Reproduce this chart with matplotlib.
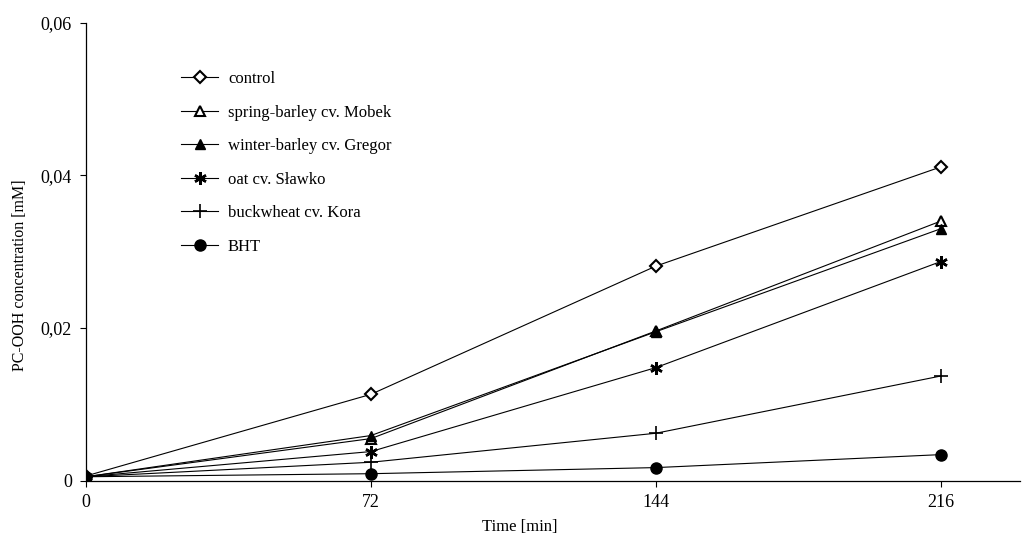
import matplotlib.pyplot as plt
from matplotlib.ticker import FuncFormatter

plt.rcParams['font.family'] = ['Liberation Serif', 'DejaVu Serif']

time = [0, 72, 144, 216]
control = [0.0006, 0.0113, 0.0281, 0.0411]
spring_barley = [0.0005, 0.0055, 0.0196, 0.0340]
winter_barley = [0.0005, 0.0059, 0.0195, 0.0330]
oat = [0.0005, 0.0038, 0.0148, 0.0287]
buckwheat = [0.0005, 0.0024, 0.0062, 0.0137]
bht = [0.0005, 0.0009, 0.0017, 0.0034]

labels = ["control", "spring-barley cv. Mobek", "winter-barley cv. Gregor",
          "oat cv. Sławko", "buckwheat cv. Kora", "BHT"]

fig = plt.figure(figsize=(10.23, 5.44), dpi=100)
ax = fig.add_axes([0.084, 0.1166, 0.913, 0.8417])

ax.plot(time, control, color="black", lw=0.8, marker="D", ms=6, mfc="white", mew=1.5, label=labels[0])
ax.plot(time, spring_barley, color="black", lw=0.8, marker="^", ms=7, mfc="white", mew=1.5, label=labels[1])
ax.plot(time, winter_barley, color="black", lw=0.8, marker="^", ms=7, mfc="black", label=labels[2])
ax.plot(time, oat, color="black", lw=0.8, marker=(6, 2, 0), ms=9, mew=1.8, label=labels[3])
ax.plot(time, buckwheat, color="black", lw=0.8, marker="+", ms=10, mew=1.2, label=labels[4])
ax.plot(time, bht, color="black", lw=0.8, marker="o", ms=8, mfc="black", label=labels[5])

ax.set_xlim(0, 236)
ax.set_ylim(0, 0.06)
ax.set_xticks(time)
ax.set_yticks([0, 0.02, 0.04, 0.06])
ax.yaxis.set_major_formatter(FuncFormatter(lambda v, p: "0" if v == 0 else f"{v:.2f}".replace(".", ",")))
ax.tick_params(direction="out", length=4, width=0.8, labelsize=13, pad=6)

ax.spines["top"].set_visible(False)
ax.spines["right"].set_visible(False)
ax.spines["left"].set_linewidth(0.9)
ax.spines["bottom"].set_linewidth(0.9)

ax.set_xlabel("Time [min]", fontsize=12)
ax.xaxis.set_label_coords(0.465, -0.085)
ax.set_ylabel("PC-OOH concentration [mM]", fontsize=11.5)
ax.yaxis.set_label_coords(-0.062, 0.449)

ax.legend(loc="upper left", bbox_to_anchor=(0.086, 0.927), frameon=False, fontsize=12,
          handlelength=2.2, labelspacing=1.05, handletextpad=0.6)

fig.savefig("out.png", dpi=100)
